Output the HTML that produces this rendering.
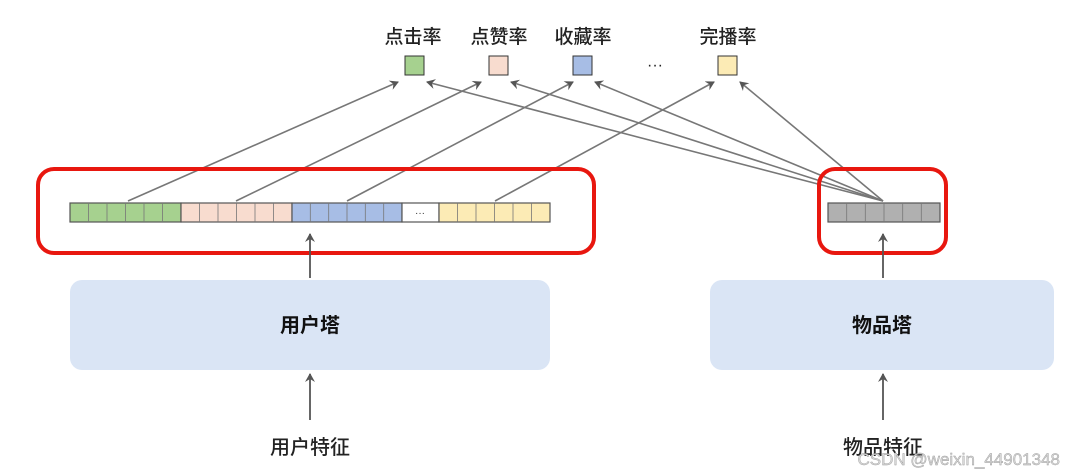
<!DOCTYPE html>
<html><head><meta charset="utf-8"><style>
body{margin:0;background:#fff;}
svg{display:block;font-family:"Liberation Sans","Noto Sans CJK SC",sans-serif;}
</style></head><body>
<svg width="1065" height="476" viewBox="0 0 1065 476">
<defs><marker id="a" markerWidth="10" markerHeight="10" refX="8" refY="5" orient="auto" markerUnits="userSpaceOnUse"><path d="M0,0 L9,5 L0,10 L3,5 Z" fill="#555"/></marker></defs>
<g font-size="19" fill="#222" text-anchor="middle" font-weight="500">
<text x="413" y="43">点击率</text><text x="499" y="43">点赞率</text><text x="583" y="43">收藏率</text><text x="728" y="43">完播率</text>
<text x="655" y="70" font-size="16">···</text>
</g>
<rect x="405" y="56" width="19" height="19" fill="#a6d18f" stroke="#333"/>
<rect x="489" y="56" width="19" height="19" fill="#f8dccf" stroke="#333"/>
<rect x="573" y="56" width="19" height="19" fill="#a7bde5" stroke="#333"/>
<rect x="718" y="56" width="19" height="19" fill="#fcebb5" stroke="#333"/>
<g stroke="#777" stroke-width="1.6" fill="none" marker-end="url(#a)">
<line x1="128" y1="201" x2="398" y2="82"/>
<line x1="236" y1="201" x2="481" y2="82"/>
<line x1="347" y1="201" x2="573" y2="82"/>
<line x1="495" y1="201" x2="714" y2="82"/>
<line x1="883" y1="201" x2="427" y2="82"/>
<line x1="883" y1="201" x2="511" y2="82"/>
<line x1="883" y1="201" x2="595" y2="82"/>
<line x1="883" y1="201" x2="740" y2="82"/>
</g>
<g stroke="#555" stroke-width="1.2">
<rect x="70" y="203" width="111" height="19" fill="#a6d18f"/>
<rect x="181" y="203" width="111" height="19" fill="#f8dccf"/>
<rect x="292" y="203" width="110" height="19" fill="#a7bde5"/>
<rect x="402" y="203" width="37" height="19" fill="#fff"/>
<rect x="439" y="203" width="111" height="19" fill="#fcebb5"/>
<rect x="828" y="203" width="112" height="19" fill="#b0b0b0"/>
</g>
<g stroke="#777" stroke-width="0.8">
<path d="M88.5 203v19M107 203v19M125.5 203v19M144 203v19M162.5 203v19M199.5 203v19M218 203v19M236.5 203v19M255 203v19M273.5 203v19M310.3 203v19M328.7 203v19M347 203v19M365.3 203v19M383.7 203v19M457.5 203v19M476 203v19M494.5 203v19M513 203v19M531.5 203v19M846.7 203v19M865.3 203v19M884 203v19M902.7 203v19M921.3 203v19"/>
</g>
<text x="420" y="216" font-size="10" text-anchor="middle" fill="#333">···</text>
<rect x="38" y="169" width="556" height="84" rx="16" fill="none" stroke="#e8170f" stroke-width="4"/>
<rect x="819" y="169" width="127" height="84" rx="16" fill="none" stroke="#e8170f" stroke-width="4"/>
<rect x="70" y="280" width="480" height="90" rx="12" fill="#dae5f5"/>
<rect x="710" y="280" width="344" height="90" rx="12" fill="#dae5f5"/>
<g font-size="20" font-weight="bold" fill="#111" text-anchor="middle">
<text x="310" y="332">用户塔</text><text x="882" y="332">物品塔</text>
</g>
<g stroke="#555" stroke-width="1.8" marker-end="url(#a)">
<line x1="310" y1="278" x2="310" y2="234"/>
<line x1="883" y1="278" x2="883" y2="234"/>
<line x1="310" y1="420" x2="310" y2="374"/>
<line x1="883" y1="420" x2="883" y2="374"/>
</g>
<g font-size="20" fill="#222" text-anchor="middle" font-weight="500">
<text x="310" y="454">用户特征</text><text x="883" y="454">物品特征</text>
</g>
<text x="1060" y="465" font-size="17" fill="#d8d8d8" text-anchor="end" stroke="#999" stroke-width="0.4">CSDN @weixin_44901348</text>
</svg>
</body></html>
